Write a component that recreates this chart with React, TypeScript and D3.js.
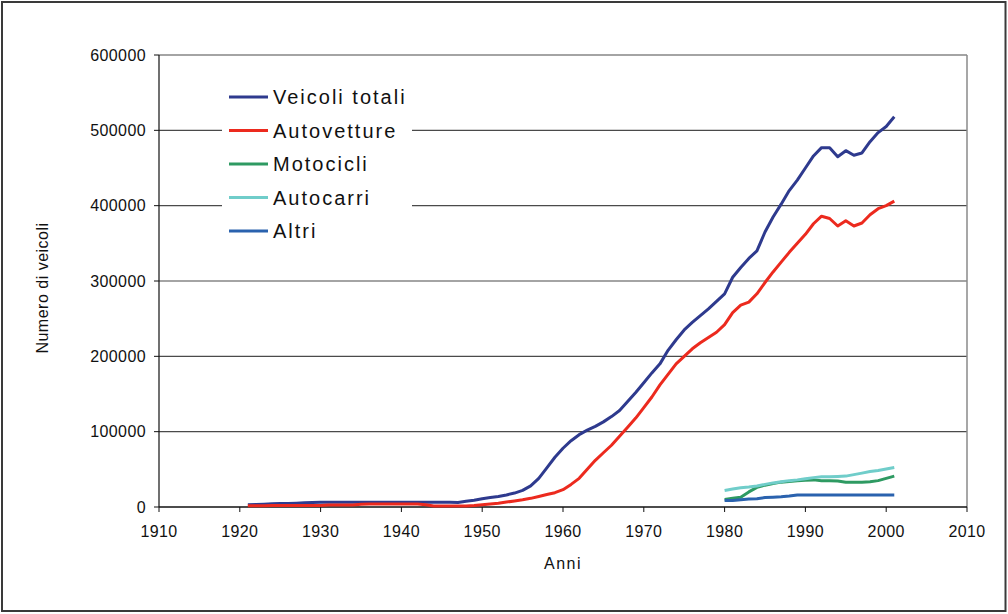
import * as d3 from "d3";

const yearsAll = d3.range(1921, 2002);
const yearsRecent = d3.range(1980, 2002);

const veicoliTotali = [
  3000, 3400, 3800, 4200, 4500, 4800, 5100, 5500, 5900, 6200,
  6300, 6300, 6400, 6300, 6300, 6300, 6400, 6400, 6300, 6300,
  6300, 6300, 6200, 6200, 6200, 6300, 6000, 7500, 9000, 11000,
  12500, 14000, 16000, 18500, 22000, 28000, 38000, 52000, 66000, 78000,
  88000, 96000, 102000, 107000, 113000, 120000, 128000, 140000, 152000, 165000,
  178000, 190000, 208000, 222000, 235000, 245000, 254000, 263000, 273000, 283000,
  305000, 318000, 330000, 340000, 365000, 385000, 402000, 420000, 434000, 450000,
  466000, 477000, 477000, 465000, 473000, 467000, 470000, 485000, 497000, 505000,
  518000,
];

const autovetture = [
  1500, 1800, 1800, 1900, 1900, 2000, 2000, 2000, 2000, 2000,
  2500, 2500, 2500, 2500, 3500, 4000, 4000, 4000, 4000, 4000,
  4000, 4000, 3000, 1300, 1300, 1300, 1300, 1300, 2000, 3000,
  4000, 5000, 6500, 8000, 9500, 11500, 14000, 16500, 19000, 23000,
  30000, 38000, 50000, 62000, 72000, 82000, 94000, 106000, 118000, 132000,
  146000, 162000, 176000, 190000, 200000, 210000, 218000, 225000, 232000, 242000,
  258000, 268000, 272000, 283000, 298000, 312000, 325000, 338000, 350000, 362000,
  376000, 386000, 383000, 373000, 380000, 373000, 377000, 388000, 396000, 400000,
  406000,
];

const motocicli = [
  10000, 11500, 13000, 20000, 26000, 29000, 31000, 33000, 34000, 35000, 35500,
  36000, 35000, 35000, 34500, 33000, 33000, 33000, 33500, 35000, 38000, 41000,
];

const autocarri = [
  22000, 24000, 25500, 26500, 28000, 30000, 32000, 33500, 35000, 36000, 37500,
  39000, 40000, 40000, 40500, 41000, 43000, 45000, 47000, 48500, 50500, 52500,
];

const altri = [
  8500, 8500, 9500, 10500, 11000, 12500, 13000, 13500, 14500, 16000, 16000,
  16000, 16000, 16000, 16000, 16000, 16000, 16000, 16000, 16000, 16000, 16000,
];

const seriesNames = ["Veicoli totali", "Autovetture", "Motocicli", "Autocarri", "Altri"];
const seriesColors = ["#2E3A8E", "#EC2A1E", "#2E9A62", "#70CDCA", "#2A62AE"];
const xTicks = [1910, 1920, 1930, 1940, 1950, 1960, 1970, 1980, 1990, 2000, 2010];
const yTicks = [0, 100000, 200000, 300000, 400000, 500000, 600000];

const W = 1008;
const H = 614;
const plot = { left: 159, right: 967, top: 55, bottom: 507 };
const font = "'Liberation Sans', Arial, sans-serif";

export default function App() {
  const x = d3.scaleLinear().domain([1910, 2010]).range([plot.left, plot.right]);
  const y = d3.scaleLinear().domain([0, 600000]).range([plot.bottom, plot.top]);

  const series = [
    { years: yearsAll, values: veicoliTotali },
    { years: yearsAll, values: autovetture },
    { years: yearsRecent, values: motocicli },
    { years: yearsRecent, values: autocarri },
    { years: yearsRecent, values: altri },
  ];

  const line = d3
    .line<[number, number]>()
    .x((d) => x(d[0]))
    .y((d) => y(d[1]));

  // legend box (covers gridlines)
  const legend = { x: 222, y: 76, w: 190, h: 170, row: 33.5 };

  return (
    <div style={{ position: "fixed", left: 0, top: 0 }}>
      <svg width={W} height={H} viewBox={`0 0 ${W} ${H}`} style={{ display: "block", fontFamily: font }}>
        <rect x={0} y={0} width={W} height={H} fill="#fff" />
        <rect x={2} y={2} width={W - 4.5} height={H - 5} fill="none" stroke="#3a3a3a" strokeWidth={2} />

        {/* grid */}
        {yTicks.slice(1).map((t) => (
          <line key={t} x1={plot.left} x2={plot.right} y1={y(t)} y2={y(t)} stroke="#4a4a4a" strokeWidth={1.2} />
        ))}
        <line x1={plot.right} x2={plot.right} y1={plot.top} y2={plot.bottom} stroke="#8a8a8a" strokeWidth={1.5} />

        {/* axes */}
        <line x1={plot.left} x2={plot.left} y1={plot.top} y2={plot.bottom} stroke="#111" strokeWidth={1.2} />
        <line x1={plot.left} x2={plot.right} y1={plot.bottom} y2={plot.bottom} stroke="#111" strokeWidth={1.5} />
        {yTicks.map((t) => (
          <g key={t}>
            <line x1={plot.left - 5} x2={plot.left} y1={y(t)} y2={y(t)} stroke="#111" />
            <text x={plot.left - 13} y={y(t)} dy="0.35em" textAnchor="end" fontSize={16} letterSpacing={0.4} fill="#111">
              {t}
            </text>
          </g>
        ))}
        {xTicks.map((t) => (
          <g key={t}>
            <line x1={x(t)} x2={x(t)} y1={plot.bottom} y2={plot.bottom + 5} stroke="#111" />
            <text x={x(t)} y={plot.bottom + 24} dy="0.35em" textAnchor="middle" fontSize={16} letterSpacing={0.4} fill="#111">
              {t}
            </text>
          </g>
        ))}
        <text x={563} y={563} dy="0.35em" textAnchor="middle" fontSize={16} letterSpacing={1.5} fill="#111">
          Anni
        </text>
        <text
          transform={`translate(42, ${(plot.top + plot.bottom) / 2 + 7}) rotate(-90)`}
          textAnchor="middle"
          dy="0.35em"
          fontSize={16}
          letterSpacing={0.5}
          fill="#111"
        >
          Numero di veicoli
        </text>

        {/* lines */}
        {series.map((s, i) => (
          <path
            key={i}
            d={line(s.years.map((yr, j) => [yr, s.values[j]] as [number, number])) ?? ""}
            fill="none"
            stroke={seriesColors[i]}
            strokeWidth={3}
            strokeLinejoin="round"
          />
        ))}

        {/* legend */}
        <rect x={legend.x} y={legend.y} width={legend.w} height={legend.h} fill="#fff" />
        {seriesNames.map((name, i) => {
          const cy = 97 + i * legend.row;
          return (
            <g key={name}>
              <line x1={229} x2={268} y1={cy} y2={cy} stroke={seriesColors[i]} strokeWidth={3} />
              <text x={273} y={cy} dy="0.35em" fontSize={20} letterSpacing={2} fill="#111">
                {name}
              </text>
            </g>
          );
        })}
      </svg>
    </div>
  );
}
